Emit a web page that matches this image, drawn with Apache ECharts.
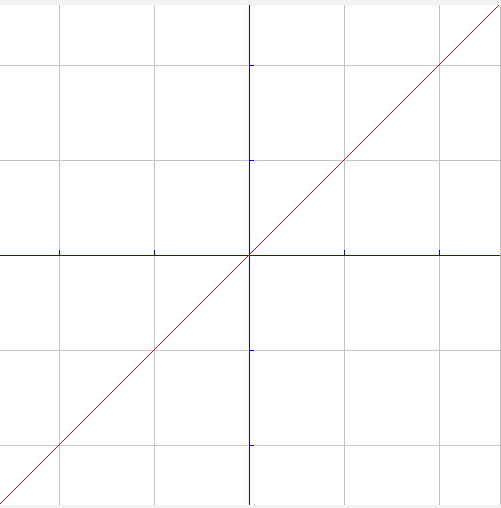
<!DOCTYPE html>
<html>
<head>
<meta charset="utf-8">
<script src="https://cdn.jsdelivr.net/npm/echarts@6/dist/echarts.min.js"></script>
<style>
html,body{margin:0;padding:0;background:#ffffff;overflow:hidden;width:501px;height:508px;}
#c{position:absolute;left:-36px;top:-30px;width:570px;height:570px;}
#c svg path{shape-rendering:crispEdges;}
.band{position:absolute;background:#f2f3f5;z-index:5;}
#top{left:0;top:0;width:501px;height:5px;}
#bot{left:0;top:505px;width:501px;height:3px;}
#edge{position:absolute;left:500px;top:5px;width:1px;height:500px;background:#c4c4c4;z-index:5;}
</style>
</head>
<body>
<div id="c"></div>
<div id="top" class="band"></div>
<div id="bot" class="band"></div>
<div id="edge"></div>
<script>
// y = x line, drawn through two endpoints
var lineX = [-3, 3];
var lineY = [-3, 3];
var axisMin = -3;
var axisMax = 3;
var axisInterval = 1;

var chart = echarts.init(document.getElementById('c'), null, {renderer: 'svg'});
var data = lineX.map(function (x, i) { return [x, lineY[i]]; });
chart.setOption({
  animation: false,
  color: ['#ff0000'],
  grid: {left: 0, right: 0, top: 0, bottom: 0, containLabel: false},
  xAxis: {
    type: 'value', min: axisMin, max: axisMax, interval: axisInterval,
    axisLine: {onZero: true, lineStyle: {color: '#0000ff', width: 1}},
    axisTick: {show: true, inside: true, length: 5, lineStyle: {color: '#0000ff'}},
    axisLabel: {show: false},
    splitLine: {show: true, lineStyle: {color: '#c4c4c4', width: 1}}
  },
  yAxis: {
    type: 'value', min: axisMin, max: axisMax, interval: axisInterval,
    axisLine: {onZero: true, lineStyle: {color: '#0000ff', width: 1}},
    axisTick: {show: true, inside: true, length: 5, lineStyle: {color: '#0000ff'}},
    axisLabel: {show: false},
    splitLine: {show: true, lineStyle: {color: '#c4c4c4', width: 1}}
  },
  series: [{
    type: 'line', data: data, showSymbol: false, clip: false,
    color: '#ff0000',
    lineStyle: {color: '#ff0000', width: 1}
  }]
});
</script>
</body>
</html>
